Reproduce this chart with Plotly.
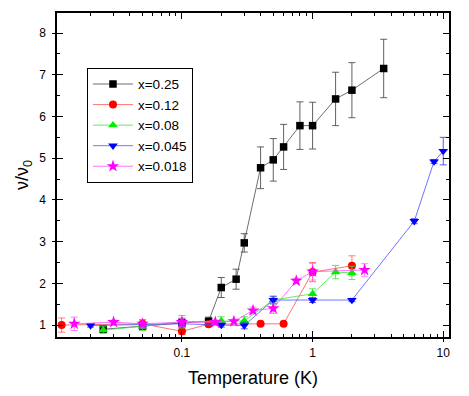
import plotly.graph_objects as go

# ---- data ----
labels = ["x=0.25", "x=0.12", "x=0.08", "x=0.045", "x=0.018"]

t_025 = [0.025, 0.05, 0.1, 0.16, 0.2, 0.26, 0.3, 0.4, 0.5, 0.6, 0.8, 1.0, 1.5, 2.0, 3.5]
v_025 = [0.9, 0.98, 1.05, 1.09, 1.9, 2.1, 2.97, 4.77, 4.96, 5.27, 5.78, 5.78, 6.42, 6.63, 7.15]
e_025 = [0.08, 0.08, 0.1, 0.1, 0.24, 0.24, 0.22, 0.5, 0.51, 0.54, 0.57, 0.56, 0.64, 0.66, 0.7]

t_012 = [0.012, 0.05, 0.1, 0.16, 0.4, 0.6, 1.0, 2.0]
v_012 = [1.0, 1.03, 0.85, 1.02, 1.03, 1.03, 2.27, 2.42]
e_012 = [0.17, 0.1, 0.08, 0.05, 0.03, 0.03, 0.23, 0.24]

t_008 = [0.025, 0.05, 0.1, 0.2, 0.3, 0.5, 1.0, 1.5, 2.0]
v_008 = [0.88, 0.97, 1.08, 1.1, 1.1, 1.6, 1.75, 2.27, 2.25]
e_008 = [0.08, 0.1, 0.15, 0.1, 0.1, 0.1, 0.12, 0.16, 0.16]

t_0045 = [0.02, 0.05, 0.1, 0.2, 0.3, 0.5, 1.0, 2.0, 6.0, 8.5, 10.0]
v_0045 = [0.99, 1.02, 1.03, 1.0, 0.99, 1.6, 1.6, 1.6, 3.49, 4.92, 5.17]
e_0045 = [0.04, 0.05, 0.05, 0.05, 0.08, 0.08, 0.06, 0.04, 0.06, 0.05, 0.33]

t_0018 = [0.015, 0.03, 0.05, 0.1, 0.18, 0.25, 0.35, 0.5, 0.75, 1.0, 2.5]
v_0018 = [1.03, 1.07, 1.03, 1.07, 1.07, 1.09, 1.35, 1.4, 2.06, 2.28, 2.32]
e_0018 = [0.16, 0.05, 0.1, 0.1, 0.05, 0.05, 0.08, 0.12, 0.06, 0.2, 0.15]

x_major = [0.1, 1, 10]
x_major_text = ["0.1", "1", "10"]
x_minor = [m * d for d in (0.01, 0.1, 1) for m in range(2, 10)]
y_major = [1, 2, 3, 4, 5, 6, 7, 8]
y_minor = [1.5, 2.5, 3.5, 4.5, 5.5, 6.5, 7.5]

series = [
    (t_025, v_025, e_025, "#000000", "rgba(60,60,60,0.75)", "rgba(80,80,80,0.9)", "square", 7.5),
    (t_012, v_012, e_012, "#ff0000", "rgba(255,80,80,0.8)", "rgba(255,90,90,0.8)", "circle", 8),
    (t_008, v_008, e_008, "#00ee00", "rgba(60,230,60,0.8)", "rgba(60,220,60,0.8)", "triangle-up", 8.5),
    (t_0045, v_0045, e_0045, "#0000ff", "rgba(80,80,255,0.8)", "rgba(60,60,255,0.85)", "triangle-down", 8.5),
    (t_0018, v_0018, e_0018, "#ff00ff", "rgba(255,80,255,0.8)", "rgba(255,90,255,0.8)", "star", 9.5),
]

fig = go.Figure()
for (tx, vy, ee, col, lcol, ecol, sym, sz), name in zip(series, labels):
    fig.add_trace(go.Scatter(
        x=tx, y=vy, name=name, mode="lines+markers",
        line=dict(color=lcol, width=1),
        marker=dict(color=col, symbol=sym, size=sz, line=dict(color=col, width=0)),
        error_y=dict(type="data", array=ee, visible=True, color=ecol, thickness=1, width=3.5),
    ))

# dummy trace for the overlay axes (outer halves of major ticks)
fig.add_trace(go.Scatter(x=[0.1], y=[1], xaxis="x2", yaxis="y2", mode="markers",
                         marker=dict(opacity=0), showlegend=False, hoverinfo="skip"))

xr = [-1.956, 1.044]
yr = [0.714, 8.48]
font_family = "Liberation Sans, Arial, sans-serif"

fig.update_layout(
    width=469, height=396,
    margin=dict(l=57, r=20, t=11, b=59),
    paper_bgcolor="white", plot_bgcolor="white",
    font=dict(family=font_family, color="black", size=12),
    showlegend=True,
    legend=dict(x=0.0765, y=0.831, xanchor="left", yanchor="top",
                bordercolor="black", borderwidth=1, bgcolor="white",
                itemwidth=40,
                font=dict(size=13.5, family=font_family), tracegroupgap=0),
    xaxis=dict(type="log", range=xr, showgrid=False, zeroline=False,
               showline=True, linecolor="black", linewidth=1.5, mirror="ticks",
               tickmode="array", tickvals=x_major, ticktext=x_major_text,
               ticks="inside", ticklen=6, tickwidth=1, tickcolor="black",
               tickfont=dict(size=12), ticklabelstandoff=4,
               minor=dict(tickmode="array", tickvals=x_minor, ticks="inside",
                          ticklen=3, tickwidth=1, tickcolor="black"),
               title=dict(text="Temperature (K)", font=dict(size=18), standoff=12)),
    yaxis=dict(range=yr, showgrid=False, zeroline=False,
               showline=True, linecolor="black", linewidth=1.5, mirror="ticks",
               tickmode="array", tickvals=y_major,
               ticks="inside", ticklen=6, tickwidth=1, tickcolor="black",
               tickfont=dict(size=12), ticklabelstandoff=7,
               minor=dict(tickmode="array", tickvals=y_minor, ticks="inside",
                          ticklen=3, tickwidth=1, tickcolor="black"),
               title=dict(text="ν/ν<sub>0</sub>", font=dict(size=18), standoff=6)),
    xaxis2=dict(type="log", range=xr, overlaying="x", anchor="y2", side="bottom",
                showgrid=False, zeroline=False, showline=False,
                tickmode="array", tickvals=x_major, showticklabels=False,
                ticks="outside", ticklen=4, tickwidth=1, tickcolor="black"),
    yaxis2=dict(range=yr, overlaying="y", anchor="x2", side="left",
                showgrid=False, zeroline=False, showline=False,
                tickmode="array", tickvals=y_major, showticklabels=False,
                ticks="outside", ticklen=4, tickwidth=1, tickcolor="black"),
)

fig.write_html("out.html", config={"displayModeBar": False},
               post_script="document.body.style.margin='0';")
